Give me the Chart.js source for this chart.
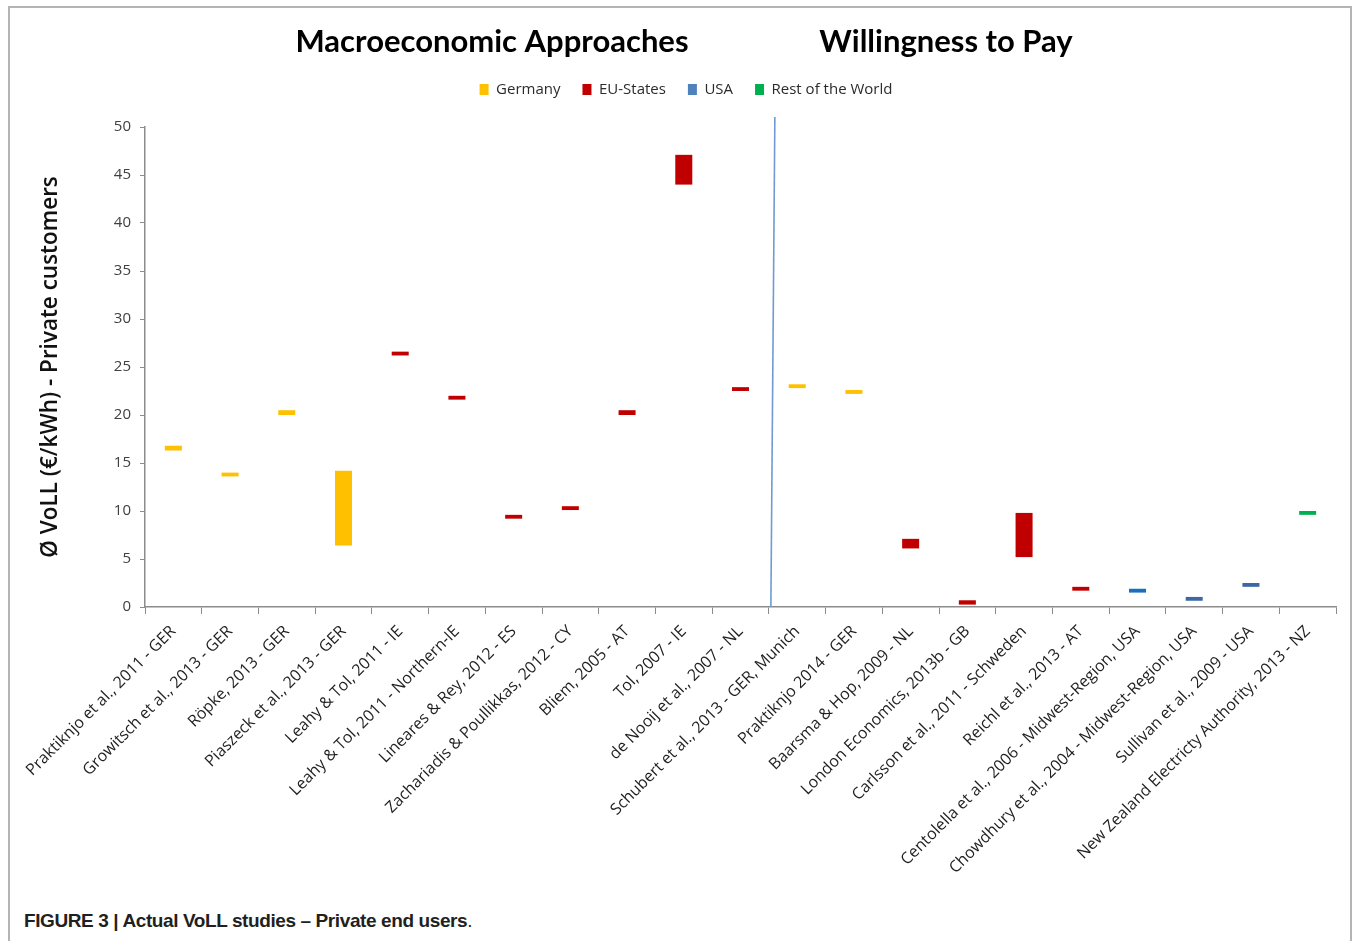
<!DOCTYPE html>
<html>
<head>
<meta charset="utf-8">
<title>Actual VoLL studies - Private end users</title>
<script src="https://cdn.jsdelivr.net/npm/chart.js@4.4.1/dist/chart.umd.min.js"></script>
<style>
  html, body { margin: 0; padding: 0; background: #fff; }
  body { width: 1356px; height: 941px; position: relative; overflow: hidden; }
  .frame {
    position: absolute; left: 8px; top: 6px; width: 1344px; height: 960px;
    border: 2px solid #b4b4b4; border-bottom: none; box-sizing: border-box;
  }
  .chart-box { position: absolute; left: 10px; top: 9px; width: 1352px; height: 880px; }
  .caption {
    position: absolute; left: 24px; top: 910px;
    font-family: "Liberation Sans", Arial, sans-serif; font-size: 19px;
    font-weight: bold; color: #231f20; letter-spacing: -0.4px;
  }
  .caption span { font-weight: normal; }
</style>
</head>
<body>
<div class="frame"></div>
<div class="chart-box"><canvas id="vollChart" width="1352" height="880"></canvas></div>
<div class="caption">FIGURE 3 | Actual VoLL studies – Private end users<span>.</span></div>

<script>
// studies (x axis categories)
const studies = [
  "Praktiknjo et al., 2011 - GER",
  "Growitsch et al., 2013 - GER",
  "Röpke, 2013 - GER",
  "Piaszeck et al., 2013 - GER",
  "Leahy & Tol, 2011 - IE",
  "Leahy & Tol, 2011 - Northern-IE",
  "Lineares & Rey, 2012 - ES",
  "Zachariadis & Poullikkas, 2012 - CY",
  "Bliem, 2005 - AT",
  "Tol, 2007 - IE",
  "de Nooij et al., 2007 - NL",
  "Schubert et al., 2013 - GER, Munich",
  "Praktiknjo 2014 - GER",
  "Baarsma & Hop, 2009 - NL",
  "London Economics, 2013b - GB",
  "Carlsson et al., 2011 - Schweden",
  "Reichl et al., 2013 - AT",
  "Centolella et al., 2006 - Midwest-Region, USA",
  "Chowdhury et al., 2004 - Midwest-Region, USA",
  "Sullivan et al., 2009 - USA",
  "New Zealand Electricty Authority, 2013 - NZ"
];

// VoLL ranges [low, high] in €/kWh, null where the study belongs to another region
const germany = [
  [16.3, 16.8], [13.6, 14.0], [20.0, 20.5], [6.4, 14.2], null, null, null, null, null, null, null,
  [22.8, 23.2], [22.2, 22.6], null, null, null, null, null, null, null, null
];
const euStates = [
  null, null, null, null, [26.2, 26.6], [21.6, 22.0], [9.2, 9.6], [10.1, 10.5], [20.0, 20.5], [44.0, 47.1], [22.5, 22.9],
  null, null, [6.1, 7.1], [0.25, 0.7], [5.2, 9.8], [1.7, 2.1], null, null, null, null
];
const usa = [
  null, null, null, null, null, null, null, null, null, null, null,
  null, null, null, null, null, null, [1.5, 1.9], [0.65, 1.05], [2.1, 2.5], null
];
const restOfWorld = [
  null, null, null, null, null, null, null, null, null, null, null,
  null, null, null, null, null, null, null, null, null, [9.6, 10.0]
];

const yTicks = [0, 5, 10, 15, 20, 25, 30, 35, 40, 45, 50];
const sectionTitles = ["Macroeconomic Approaches", "Willingness to Pay"];
const firstWtpStudy = 11; // index where the willingness-to-pay studies start

const usaBarColors = { 17: "#1a6fbf", 18: "#3d68a4", 19: "#3d68a4" };

// draws the two section headings and the divider line
const sectionPlugin = {
  id: "sections",
  afterDraw(chart) {
    const ctx = chart.ctx;
    const x = chart.scales.x;
    const area = chart.chartArea;
    const half = (x.getPixelForValue(1) - x.getPixelForValue(0)) / 2;
    const divX = x.getPixelForValue(firstWtpStudy) - half;

    ctx.save();
    ctx.strokeStyle = "#6f9bd2";
    ctx.lineWidth = 1.6;
    ctx.beginPath();
    ctx.moveTo(divX + 6, area.top - 10);
    ctx.lineTo(divX + 2, area.bottom);
    ctx.stroke();

    ctx.fillStyle = "#000";
    ctx.font = "bold 31px Lato, 'Open Sans', sans-serif";
    ctx.textAlign = "center";
    ctx.textBaseline = "middle";
    ctx.fillText(sectionTitles[0], 482, 33);
    ctx.fillText(sectionTitles[1], 936, 33);
    ctx.restore();
  }
};

// keeps some air between the legend and the plot
const legendGapPlugin = {
  id: "legendGap",
  beforeLayout(chart) {
    const lg = chart.legend;
    if (lg && !lg._gapPatched) {
      const fit = lg.fit.bind(lg);
      lg.fit = function () {
        fit();
        this.height += 20;
      };
      lg._gapPatched = true;
    }
  }
};

const ctx = document.getElementById("vollChart").getContext("2d");
const vollChart = new Chart(ctx, {
  type: "bar",
  data: {
    labels: studies,
    datasets: [
      { label: "Germany", data: germany, backgroundColor: "#ffc000" },
      { label: "EU-States", data: euStates, backgroundColor: "#c00000" },
      {
        label: "USA",
        data: usa,
        backgroundColor: (c) => (c.type === "data" && usaBarColors[c.dataIndex]) || "#4f81bd"
      },
      { label: "Rest of the World", data: restOfWorld, backgroundColor: "#00b050" }
    ]
  },
  options: {
    responsive: false,
    animation: false,
    barPercentage: 0.3,
    categoryPercentage: 1,
    layout: { padding: { top: 51, left: 0, right: 0, bottom: 0 } },
    plugins: {
      legend: {
        position: "top",
        labels: {
          boxWidth: 9,
          boxHeight: 11,
          padding: 22,
          color: "#2b2b2b",
          font: { family: "'Open Sans', sans-serif", size: 15 }
        }
      },
      tooltip: { enabled: false }
    },
    scales: {
      x: {
        stacked: true,
        grid: { drawOnChartArea: false, tickLength: 7, color: "#8c8c8c" },
        border: { color: "#8c8c8c", width: 1.5 },
        ticks: {
          autoSkip: false,
          minRotation: 45,
          maxRotation: 45,
          padding: 8,
          color: "#1f1f1f",
          font: { family: "'Open Sans', sans-serif", size: 16 }
        },
        afterFit(scale) {
          scale.height = 282;
          scale.paddingLeft = 0;
          scale.paddingRight = 26;
        }
      },
      y: {
        stacked: false,
        min: 0,
        max: 50,
        afterBuildTicks(scale) {
          scale.ticks = yTicks.map((v) => ({ value: v }));
        },
        grid: { drawOnChartArea: false, tickLength: 5, color: "#8c8c8c" },
        border: { color: "#8c8c8c", width: 1.5 },
        ticks: {
          padding: 9,
          color: "#404040",
          font: { family: "'Open Sans', sans-serif", size: 15 }
        },
        title: {
          display: true,
          text: "Ø VoLL (€/kWh) - Private customers",
          color: "#111",
          padding: { top: 27, bottom: 0 },
          font: { family: "'Open Sans', sans-serif", size: 22.5, weight: "600" }
        },
        afterFit(scale) {
          scale.width = 135;
        }
      }
    }
  },
  plugins: [sectionPlugin, legendGapPlugin]
});
</script>
</body>
</html>
